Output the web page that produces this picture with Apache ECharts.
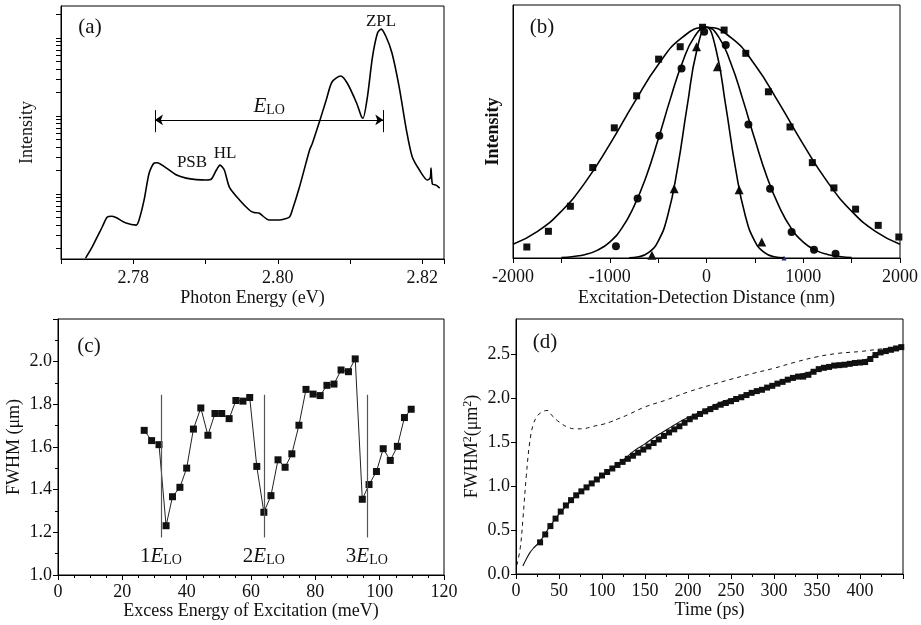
<!DOCTYPE html>
<html><head><meta charset="utf-8">
<script src="https://cdn.jsdelivr.net/npm/echarts@6/dist/echarts.min.js"></script>
<style>html,body{margin:0;padding:0;background:#fff}#c{width:921px;height:625px}</style>
</head><body><div id="c"></div>
<script>
// ---------- Panel (a): PL spectrum (log intensity) ----------
const aEnergy = [2.7734,2.7743,2.7750,2.7757,2.7764,2.7770,2.7776,2.7790,2.7804,2.7808,2.7815,2.7822,2.7829,2.7833,2.7846,2.7860,2.7873,2.7887,2.7901,2.7908,2.7915,2.7920,2.7926,2.7933,2.7947,2.7961,2.7967,2.7974,2.7988,2.8002,2.8016,2.8020,2.8030,2.8044,2.8048,2.8057,2.8067,2.8075,2.8087,2.8096,2.8109,2.8116,2.8118,2.8124,2.8131,2.8138,2.8143,2.8150,2.8158,2.8168,2.8178,2.8186,2.8196,2.8207,2.8211,2.8212,2.8214,2.8219,2.8224];
const aIntensity = [1.51,2.09,2.81,3.78,5.07,5.2,5.0,4.25,4.0,4.65,8.4,18.6,25.0,25.2,21.5,17.5,16.0,15.3,15.1,15.5,20.3,23.5,20.3,12.3,8.4,6.2,5.8,5.7,4.65,4.65,5.07,6.2,12.3,36.6,45,81,160,273,326,265,147,97,94,175,570,1160,1300,1030,643,235,66,30,20.3,15.1,16,21.5,13.4,13,11.9];
const aTickValues = [2,3,4,5,6,7,8,9,10,20,30,40,50,60,70,80,90,100,200,300,400,500,600,700,800,900,1000,2000];
const aArrowX = [2.7830, 2.8146];
const aArrowY = 89;
const aBarY = [62, 119];

// ---------- Panel (b): spatial profiles ----------
const bSquareX = [-1857,-1634,-1407,-1176,-953,-722,-495,-272,-41,182,406,640,863,1094,1317,1541,1775,1988];
const bSquareY = [0.0435,0.1055,0.2045,0.3575,0.5145,0.641,0.786,0.835,0.912,0.901,0.809,0.657,0.518,0.377,0.277,0.193,0.129,0.083];
const bCircleX = [-936,-712,-488,-258,-24,199,433,657,880,1111,1334];
const bCircleY = [0.046,0.235,0.483,0.749,0.894,0.842,0.528,0.274,0.103,0.033,0.017];
const bTriangleX = [-564,-334,-103,113,337,571];
const bTriangleY = [0.011,0.274,0.835,0.756,0.270,0.063];
const bTinyTriangle = [801, 0.0];
const bWideFitX = [-2000,-1750,-1500,-1250,-1000,-750,-500,-250,0,250,500,750,1000,1250,1500,1750,2000];
const bWideFitY = [0.054,0.104,0.185,0.301,0.449,0.612,0.764,0.872,0.912,0.872,0.764,0.612,0.449,0.301,0.185,0.104,0.054];
const bMidFitX = [-1500,-1375,-1250,-1125,-1000,-875,-750,-625,-500,-375,-250,-125,0,125,250,375,500,625,750,875,1000,1125,1250,1375,1500];
const bMidFitY = [0.002,0.006,0.014,0.031,0.063,0.118,0.204,0.320,0.468,0.627,0.772,0.874,0.912,0.874,0.772,0.627,0.468,0.320,0.204,0.118,0.063,0.031,0.014,0.006,0.002];
const bNarrowFitX = [-800,-700,-600,-500,-400,-300,-200,-100,0,100,200,300,400,500,600,700,800];
const bNarrowFitY = [0.001,0.005,0.021,0.066,0.169,0.354,0.599,0.821,0.912,0.821,0.599,0.354,0.169,0.066,0.021,0.005,0.001];

// ---------- Panel (c): FWHM vs excess energy ----------
const cEnergy = [26.8,29.1,31.4,33.6,35.6,37.9,40.0,42.1,44.4,46.6,48.8,50.9,53.2,55.3,57.5,59.6,61.8,64.0,66.2,68.4,70.6,72.7,74.9,77.1,79.3,81.5,83.6,85.8,88.0,90.3,92.4,94.6,96.7,99.0,101.1,103.3,105.5,107.7,109.8];
const cFWHM = [1.678,1.630,1.611,1.231,1.367,1.411,1.501,1.684,1.783,1.655,1.757,1.757,1.733,1.818,1.815,1.832,1.509,1.294,1.372,1.540,1.505,1.568,1.702,1.870,1.848,1.841,1.889,1.895,1.961,1.953,2.013,1.355,1.424,1.485,1.592,1.537,1.603,1.738,1.777];
const cLOLines = [32, 64, 96];
const cLOLabels = ['1', '2', '3'];
const cLineRange = [1.176, 1.845];

// ---------- Panel (d): FWHM^2 vs time ----------
const dTime = [28,34,40,46,52,58,64,70,76,82,88,94,100,106,112,118,124,130,136,142,148,154,160,166,172,178,184,190,196,202,208,214,220,226,232,238,244,250,256,262,268,274,280,286,292,298,304,310,316,322,328,334,340,346,352,358,364,370,376,382,388,394,400,406,412,418,424,430,436,442,448];
const dFWHM2 = [0.36,0.45,0.545,0.63,0.71,0.78,0.84,0.895,0.94,0.985,1.03,1.075,1.12,1.16,1.20,1.24,1.275,1.31,1.345,1.38,1.415,1.45,1.49,1.53,1.57,1.61,1.645,1.68,1.72,1.76,1.79,1.82,1.85,1.875,1.90,1.925,1.945,1.965,1.99,2.01,2.035,2.06,2.08,2.095,2.12,2.14,2.165,2.185,2.21,2.23,2.245,2.245,2.265,2.30,2.33,2.345,2.355,2.37,2.375,2.38,2.39,2.40,2.405,2.41,2.445,2.49,2.52,2.535,2.55,2.565,2.58];
const dFitTime = [8,12,16,20,25,30,40,50,60,70,80,90,100,110,120,130,140,150,160,170,180,190,200,210,220,230,240,250,260,270,280,290,300,310,320,330,340,350,360,370,380,390,400,410,420,430,440,448];
const dFitValue = [0.09,0.17,0.24,0.29,0.34,0.40,0.55,0.68,0.79,0.89,0.97,1.04,1.11,1.19,1.26,1.34,1.42,1.48,1.55,1.61,1.67,1.73,1.78,1.82,1.87,1.92,1.96,1.99,2.02,2.06,2.09,2.12,2.15,2.19,2.23,2.27,2.29,2.32,2.35,2.37,2.39,2.41,2.42,2.45,2.52,2.54,2.56,2.60];
const dDiffTime = [1,5,8,12,16,20,25,30,36,42,50,60,70,80,90,100,110,120,130,150,175,200,225,250,275,300,325,350,375,400,425,448];
const dDiffValue = [0.10,0.30,0.62,1.12,1.50,1.70,1.80,1.84,1.86,1.80,1.73,1.67,1.65,1.655,1.68,1.70,1.73,1.77,1.81,1.90,1.98,2.07,2.145,2.215,2.28,2.34,2.41,2.47,2.51,2.53,2.56,2.58];

const zip = (xs, ys) => xs.map((x, i) => [x, ys[i]]);
const FONT = 'Liberation Serif';
const INK = '#111';
const axisLine = {show: true, onZero: false, lineStyle: {color: '#000', width: 1}};
const tick = (len) => ({show: true, length: len, lineStyle: {color: '#000', width: 1}});
const minor = (n, len) => ({show: true, splitNumber: n, length: len, lineStyle: {color: '#000', width: 1}});
const lab = (o) => Object.assign({color: INK, fontFamily: FONT, fontSize: 18}, o || {});
const nm = (o) => Object.assign({color: INK, fontFamily: FONT, fontSize: 18}, o || {});
const noSplit = {show: false};
const gridBase = {show: true, borderColor: '#000', borderWidth: 1, backgroundColor: 'transparent'};
const solidMark = {color: '#111', opacity: 1};

const chart = echarts.init(document.getElementById('c'), null, {renderer: 'canvas'});

const option = {
  animation: false,
  backgroundColor: '#fff',
  grid: [
    Object.assign({left: 61, top: 6, width: 383, height: 253}, gridBase),
    Object.assign({left: 513, top: 5, width: 388, height: 253}, gridBase),
    Object.assign({left: 58, top: 319, width: 386, height: 256}, gridBase),
    Object.assign({left: 516, top: 319, width: 387, height: 255}, gridBase)
  ],
  xAxis: [
    {gridIndex: 0, type: 'value', min: 2.77, max: 2.823, interval: 0.01,
     axisLine, axisTick: tick(5), splitLine: noSplit,
     axisLabel: lab({margin: 10, showMaxLabel: true, formatter: v => {
       const k = Math.round(v * 100);
       return (Math.abs(v * 100 - k) < 1e-6 && k % 2 === 0 && k >= 278 && k <= 282) ? v.toFixed(2) : '';
     }}),
     name: 'Photon Energy (eV)', nameLocation: 'middle', nameGap: 30, nameTextStyle: nm()},
    {gridIndex: 1, type: 'value', min: -2000, max: 2000, interval: 1000,
     axisLine, axisTick: tick(5), minorTick: minor(2, 5), splitLine: noSplit, minorSplitLine: noSplit,
     axisLabel: lab({margin: 10, formatter: v => String(Math.round(v))}),
     name: 'Excitation-Detection Distance (nm)', nameLocation: 'middle', nameGap: 31, nameTextStyle: nm()},
    {gridIndex: 2, type: 'value', min: 0, max: 120, interval: 20,
     axisLine, axisTick: tick(5), minorTick: minor(4, 3), splitLine: noSplit, minorSplitLine: noSplit,
     axisLabel: lab({margin: 8, formatter: v => String(Math.round(v))}),
     name: 'Excess Energy of Excitation (meV)', nameLocation: 'middle', nameGap: 26, nameTextStyle: nm()},
    {gridIndex: 3, type: 'value', min: 0, max: 450, interval: 50,
     axisLine, axisTick: tick(5), minorTick: minor(2, 3), splitLine: noSplit, minorSplitLine: noSplit,
     axisLabel: lab({margin: 8, showMaxLabel: false, formatter: v => String(Math.round(v))}),
     name: 'Time (ps)', nameLocation: 'middle', nameGap: 27, nameTextStyle: nm()}
  ],
  yAxis: [
    {gridIndex: 0, type: 'log', logBase: 10, min: 1.47, max: 2570,
     axisLine, axisTick: {show: true, length: 5, customValues: aTickValues, lineStyle: {color: '#000'}},
     axisLabel: {show: false}, splitLine: noSplit,
     name: 'Intensity', nameLocation: 'middle', nameGap: 25, nameTextStyle: nm()},
    {gridIndex: 1, type: 'value', min: 0, max: 1,
     axisLine, axisTick: {show: false}, axisLabel: {show: false}, splitLine: noSplit,
     name: 'Intensity', nameLocation: 'middle', nameGap: 11, nameTextStyle: nm({fontWeight: 'bold'})},
    {gridIndex: 2, type: 'value', min: 1.0, max: 2.2, interval: 0.2,
     axisLine, axisTick: tick(5), minorTick: minor(2, 3), splitLine: noSplit, minorSplitLine: noSplit,
     axisLabel: lab({margin: 6, showMaxLabel: false, formatter: v => v.toFixed(1)}),
     name: 'FWHM (μm)', nameLocation: 'middle', nameGap: 35, nameTextStyle: nm()},
    {gridIndex: 3, type: 'value', min: 0, max: 2.9, interval: 0.5,
     axisLine, axisTick: tick(5), splitLine: noSplit,
     axisLabel: lab({margin: 6, showMaxLabel: false, formatter: v => v.toFixed(1)}),
     name: 'FWHM{sup|2}(μm{sup|2})', nameLocation: 'middle', nameGap: 34,
     nameTextStyle: nm({rich: {sup: {fontFamily: FONT, fontSize: 12, color: INK, verticalAlign: 'top', padding: [0, 0, 8, 0]}}})}
  ],
  series: [
    {type: 'line', xAxisIndex: 0, yAxisIndex: 0, data: zip(aEnergy, aIntensity), showSymbol: false, smooth: 0.25,
     lineStyle: {color: '#000', width: 1.6}, silent: true,
     markLine: {silent: true, animation: false, label: {show: false}, lineStyle: {color: '#000', width: 1, type: 'solid'},
       symbol: ['arrow', 'arrow'], symbolSize: 8,
       data: [
         [{coord: [aArrowX[0], aArrowY]}, {coord: [aArrowX[1], aArrowY]}],
         [{coord: [aArrowX[0], aBarY[0]], symbol: 'none'}, {coord: [aArrowX[0], aBarY[1]], symbol: 'none'}],
         [{coord: [aArrowX[1], aBarY[0]], symbol: 'none'}, {coord: [aArrowX[1], aBarY[1]], symbol: 'none'}]
       ]}},
    {type: 'line', xAxisIndex: 1, yAxisIndex: 1, data: zip(bWideFitX, bWideFitY), showSymbol: false, smooth: true, lineStyle: {color: '#000', width: 1.6}},
    {type: 'line', xAxisIndex: 1, yAxisIndex: 1, data: zip(bMidFitX, bMidFitY), showSymbol: false, smooth: true, lineStyle: {color: '#000', width: 1.6}},
    {type: 'line', xAxisIndex: 1, yAxisIndex: 1, data: zip(bNarrowFitX, bNarrowFitY), showSymbol: false, smooth: true, lineStyle: {color: '#000', width: 1.6}},
    {type: 'scatter', xAxisIndex: 1, yAxisIndex: 1, data: zip(bSquareX, bSquareY), symbol: 'rect', symbolSize: 7, itemStyle: solidMark},
    {type: 'scatter', xAxisIndex: 1, yAxisIndex: 1, data: zip(bCircleX, bCircleY), symbol: 'circle', symbolSize: 8, itemStyle: solidMark},
    {type: 'scatter', xAxisIndex: 1, yAxisIndex: 1, data: zip(bTriangleX, bTriangleY), symbol: 'triangle', symbolSize: 9, itemStyle: solidMark},
    {type: 'scatter', xAxisIndex: 1, yAxisIndex: 1, data: [bTinyTriangle], symbol: 'triangle', symbolSize: 5, itemStyle: {color: '#2a2f7a', opacity: 1}},
    {type: 'line', xAxisIndex: 2, yAxisIndex: 2, data: zip(cEnergy, cFWHM), symbol: 'rect', symbolSize: 7,
     itemStyle: solidMark, lineStyle: {color: '#222', width: 1},
     markLine: {silent: true, animation: false, symbol: 'none', label: {show: false}, lineStyle: {color: '#555', width: 1.2, type: 'solid'},
       data: cLOLines.map(x => [{coord: [x, cLineRange[0]]}, {coord: [x, cLineRange[1]]}])}},
    {type: 'line', xAxisIndex: 3, yAxisIndex: 3, data: zip(dDiffTime, dDiffValue), showSymbol: false, smooth: 0.4,
     lineStyle: {color: '#111', width: 1, type: [4, 4]}},
    {type: 'line', xAxisIndex: 3, yAxisIndex: 3, data: zip(dFitTime, dFitValue), showSymbol: false, smooth: 0.3,
     lineStyle: {color: '#111', width: 1.1}},
    {type: 'scatter', xAxisIndex: 3, yAxisIndex: 3, data: zip(dTime, dFWHM2), symbol: 'rect', symbolSize: 6, itemStyle: solidMark}
  ]
};
chart.setOption(option);

const txt = (x, y, text, size, extra) => ({type: 'text', x: x, y: y, silent: true,
  style: Object.assign({text: text, fontFamily: FONT, fontSize: size, fill: INK, align: 'center', verticalAlign: 'middle'}, extra || {})});
const eloRich = {
  n: {fontFamily: FONT, fontSize: 21, fill: INK, color: INK},
  e: {fontFamily: FONT, fontSize: 21, fontStyle: 'italic', fill: INK, color: INK},
  s: {fontFamily: FONT, fontSize: 14, fill: INK, color: INK, verticalAlign: 'bottom'}
};
const elements = [
  txt(90, 27, '(a)', 21), txt(542, 27, '(b)', 21), txt(89, 346, '(c)', 21), txt(545, 342, '(d)', 21),
  txt(381, 22, 'ZPL', 17), txt(192, 163, 'PSB', 17), txt(225, 154, 'HL', 17)
];
const eloA = chart.convertToPixel({gridIndex: 0}, [(aArrowX[0] + aArrowX[1]) / 2, aArrowY]);
elements.push(txt(eloA[0], eloA[1] - 13, '{e|E}{s|LO}', 21, {rich: eloRich}));
cLOLines.forEach((x, i) => {
  const p = chart.convertToPixel({gridIndex: 2}, [x, cLineRange[0]]);
  elements.push(txt(p[0], p[1] + 19, '{n|' + cLOLabels[i] + '}{e|E}{s|LO}', 21, {rich: eloRich}));
});
chart.setOption({graphic: {elements: elements}});
</script>
</body></html>
